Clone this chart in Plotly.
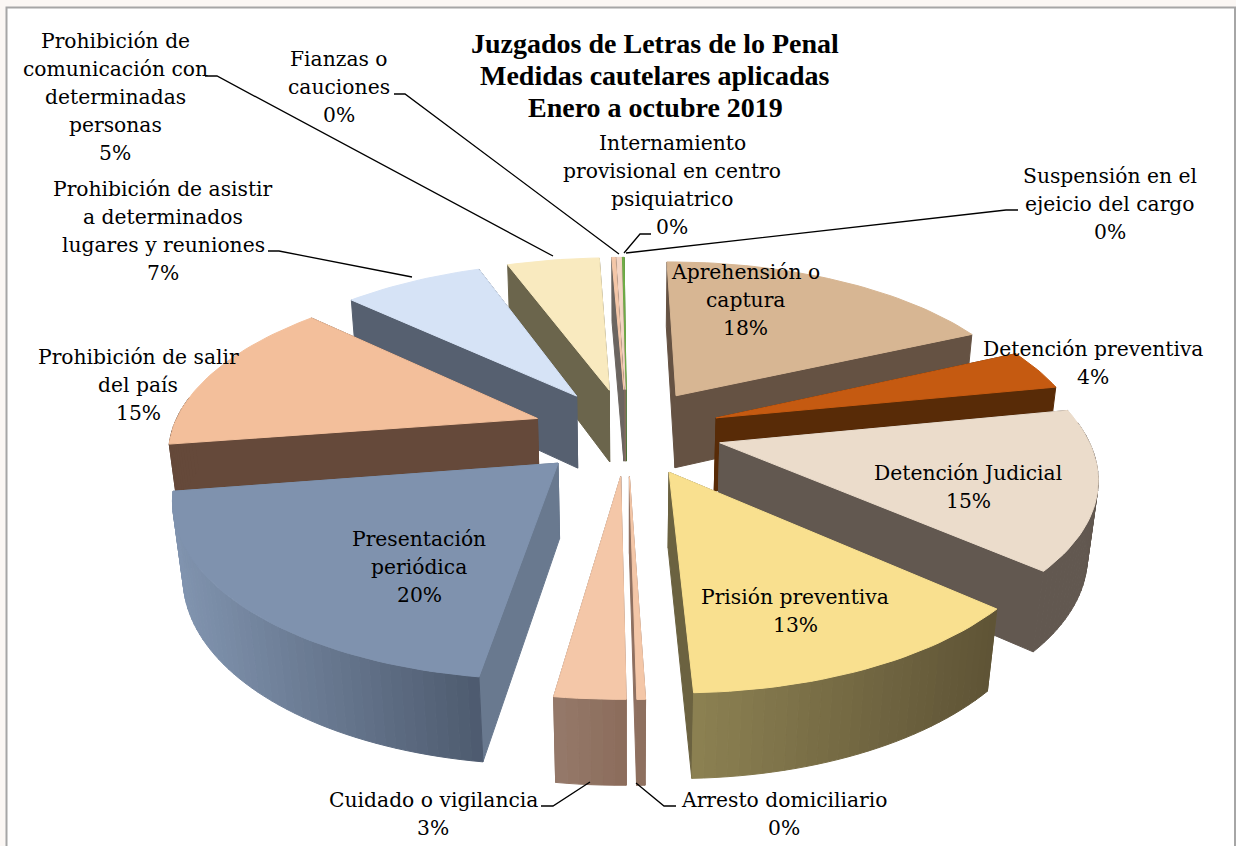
import numpy as np
import plotly.graph_objects as go

# ---- data ----
categories = ["Aprehensión o captura", "Detención preventiva", "Detención Judicial",
              "Prisión preventiva", "Arresto domiciliario", "Cuidado o vigilancia",
              "Presentación periódica", "Prohibición de salir del país",
              "Prohibición de asistir a determinados lugares y reuniones",
              "Prohibición de comunicación con determinadas personas",
              "Fianzas o cauciones", "Internamiento provisional en centro psiquiatrico",
              "Suspensión en el ejeicio del cargo"]
values = [18.2, 3.8, 14.7, 12.9, 0.3, 2.5, 20.3, 14.5, 7.4, 4.9, 0.2, 0.25, 0.1]
percent_labels = ["18%", "4%", "15%", "13%", "0%", "3%", "20%", "15%", "7%", "5%", "0%", "0%", "0%"]
title_lines = ["Juzgados de Letras de lo Penal", "Medidas cautelares aplicadas", "Enero a octubre 2019"]

# ---- style ----
top_colors = ["#D7B693", "#C55A11", "#EBDCCB", "#F9E08F", "#F4C7A8", "#F4C7A8", "#7F92AE",
              "#F3BF9B", "#D6E3F6", "#F9EABF", "#F4C7A8", "#F4D5C4", "#70AD47"]
wall_left = ["#655243", "#582B07", "#625850", "#8C8152", "#927464", "#95796A", "#8093AE",
             "#65493A", "#566070", "#6B654C", "#6B6560", "#8F7060", "#3F6A2C"]
wall_right = ["#655243", "#582B07", "#625850", "#5F5436", "#8B6C5B", "#8B6C5B", "#4D5A6E",
              "#65493A", "#566070", "#6B654C", "#6B6560", "#8F7060", "#3F6A2C"]
radial_colors = ["#655243", "#582B07", "#625850", "#6B6240", "#8F7060", "#8F7060", "#69798F",
                 "#65493A", "#566070", "#6B654C", "#6B6560", "#8F7060", "#3F6A2C"]

# ---- camera ----
TILT = np.radians(29.5); C, S = np.cos(TILT), np.sin(TILT)
D, F = 5.25, 1877.0
CX, CY = 627.0, 505.0
H, EXPLODE = 0.232, 0.26
START = np.radians(-0.4)

def proj(X, Y, Z):
    w = D + Y * C - Z * S
    return CX + F * X / w, CY - F * (Y * S + Z * C) / w

def hexmix(a, b, t):
    ca = [int(a[i:i + 2], 16) for i in (1, 3, 5)]
    cb = [int(b[i:i + 2], 16) for i in (1, 3, 5)]
    return "rgb(%d,%d,%d)" % tuple(round(p + (q - p) * t) for p, q in zip(ca, cb))

fig = go.Figure()

def poly(xs, ys, color):
    fig.add_trace(go.Scatter(x=list(xs) + [xs[0]], y=list(ys) + [ys[0]], mode="lines", fill="toself",
                             fillcolor=color, line=dict(color=color, width=1),
                             hoverinfo="skip", showlegend=False))

vals = np.array(values)
edges = START + np.concatenate([[0], np.cumsum(vals) / vals.sum() * 2 * np.pi])
mids = (edges[:-1] + edges[1:]) / 2
order = np.argsort(-np.cos(mids))     # back slices first

for i in order:
    a0, a1, m = edges[i], edges[i + 1], mids[i]
    ox, oy = EXPLODE * np.sin(m), EXPLODE * np.cos(m)
    n = max(2, int(np.degrees(a1 - a0) / 1.5) + 2)
    t = np.linspace(a0, a1, n)
    px, py = ox + np.sin(t), oy + np.cos(t)
    for a in sorted((a0, a1), key=lambda v: -np.cos(v)):
        ex, ey = ox + np.sin(a), oy + np.cos(a)
        qx, qy = proj(np.array([ox, ex, ex, ox]), np.array([oy, ey, ey, oy]), np.array([0, 0, H, H]))
        poly(qx, qy, radial_colors[i])
    sx_all = proj(px, py, 0 * px)[0]
    lo, hi = sx_all.min(), sx_all.max()
    for k in range(n - 1):
        if np.cos((t[k] + t[k + 1]) / 2) > 0.12:
            continue
        X = np.array([px[k], px[k + 1], px[k + 1], px[k]])
        Y = np.array([py[k], py[k + 1], py[k + 1], py[k]])
        Z = np.array([0, 0, H, H])
        qx, qy = proj(X, Y, Z)
        f = (qx.mean() - lo) / max(hi - lo, 1)
        poly(qx, qy, hexmix(wall_left[i], wall_right[i], f))
    qx, qy = proj(np.concatenate([[ox], px]), np.concatenate([[oy], py]), np.full(n + 1, H))
    poly(qx, qy, top_colors[i])

# ---- leader lines ----
leaders = [[(205, 76), (217, 76), (553, 256)], [(394, 94), (405, 94), (619, 254)],
           [(268, 251), (279, 251), (412, 277)], [(651, 234), (640, 234), (624, 253)],
           [(1018, 210), (1006, 210), (626, 253)], [(541, 806), (553, 806), (590, 782)],
           [(676, 806), (664, 806), (636, 783)]]
for l in leaders:
    fig.add_trace(go.Scatter(x=[p[0] for p in l], y=[p[1] for p in l], mode="lines",
                             line=dict(color="#000000", width=1.3), hoverinfo="skip", showlegend=False))

# ---- labels ----
labels = [
    (745, 300, ["Aprehensión o", "captura", percent_labels[0]]),
    (1093, 363, ["Detención preventiva", percent_labels[1]]),
    (968, 487, ["Detención Judicial", percent_labels[2]]),
    (795, 611, ["Prisión preventiva", percent_labels[3]]),
    (784, 814, ["Arresto domiciliario", percent_labels[4]]),
    (433, 814, ["Cuidado o vigilancia", percent_labels[5]]),
    (419, 567, ["Presentación", "periódica", percent_labels[6]]),
    (138, 385, ["Prohibición de salir", "del país", percent_labels[7]]),
    (163, 231, ["Prohibición de asistir", "a determinados", "lugares y reuniones", percent_labels[8]]),
    (115, 97, ["Prohibición de", "comunicación con", "determinadas", "personas", percent_labels[9]]),
    (339, 87, ["Fianzas o", "cauciones", percent_labels[10]]),
    (672, 185, ["Internamiento", "provisional en centro", "psiquiatrico", percent_labels[11]]),
    (1110, 204, ["Suspensión en el", "ejeicio del cargo", percent_labels[12]]),
]
annotations = []
for x, y, lines in labels:
    for k, line in enumerate(lines):
        annotations.append(dict(x=x, y=y + (k - (len(lines) - 1) / 2) * 27.8, text=line, xref="x", yref="y",
                                showarrow=False, xanchor="center", yanchor="middle",
                                font=dict(family="DejaVu Serif", size=20.3, color="#000000")))
for y, line in zip((43, 75, 107), title_lines):
    annotations.append(dict(x=655, y=y, text="<b>" + line + "</b>", xref="x", yref="y", showarrow=False,
                            xanchor="center", yanchor="middle",
                            font=dict(family="Liberation Serif", size=28, color="#000000")))

fig.update_layout(
    width=1236, height=846, margin=dict(l=0, r=0, t=0, b=0), autosize=False,
    paper_bgcolor="#FBF7F4", plot_bgcolor="#FBF7F4", showlegend=False,
    xaxis=dict(range=[0, 1236], visible=False, fixedrange=True),
    yaxis=dict(range=[846, 0], visible=False, fixedrange=True),
    annotations=annotations,
    shapes=[dict(type="rect", xref="x", yref="y", x0=6.5, y0=7.5, x1=1235, y1=860, layer="below",
                 fillcolor="#FFFFFF", line=dict(color="#A6A6A6", width=2))],
)
fig.write_html("out.html", config={"displayModeBar": False},
               post_script="document.body.style.margin='0';document.body.style.overflow='hidden';")
